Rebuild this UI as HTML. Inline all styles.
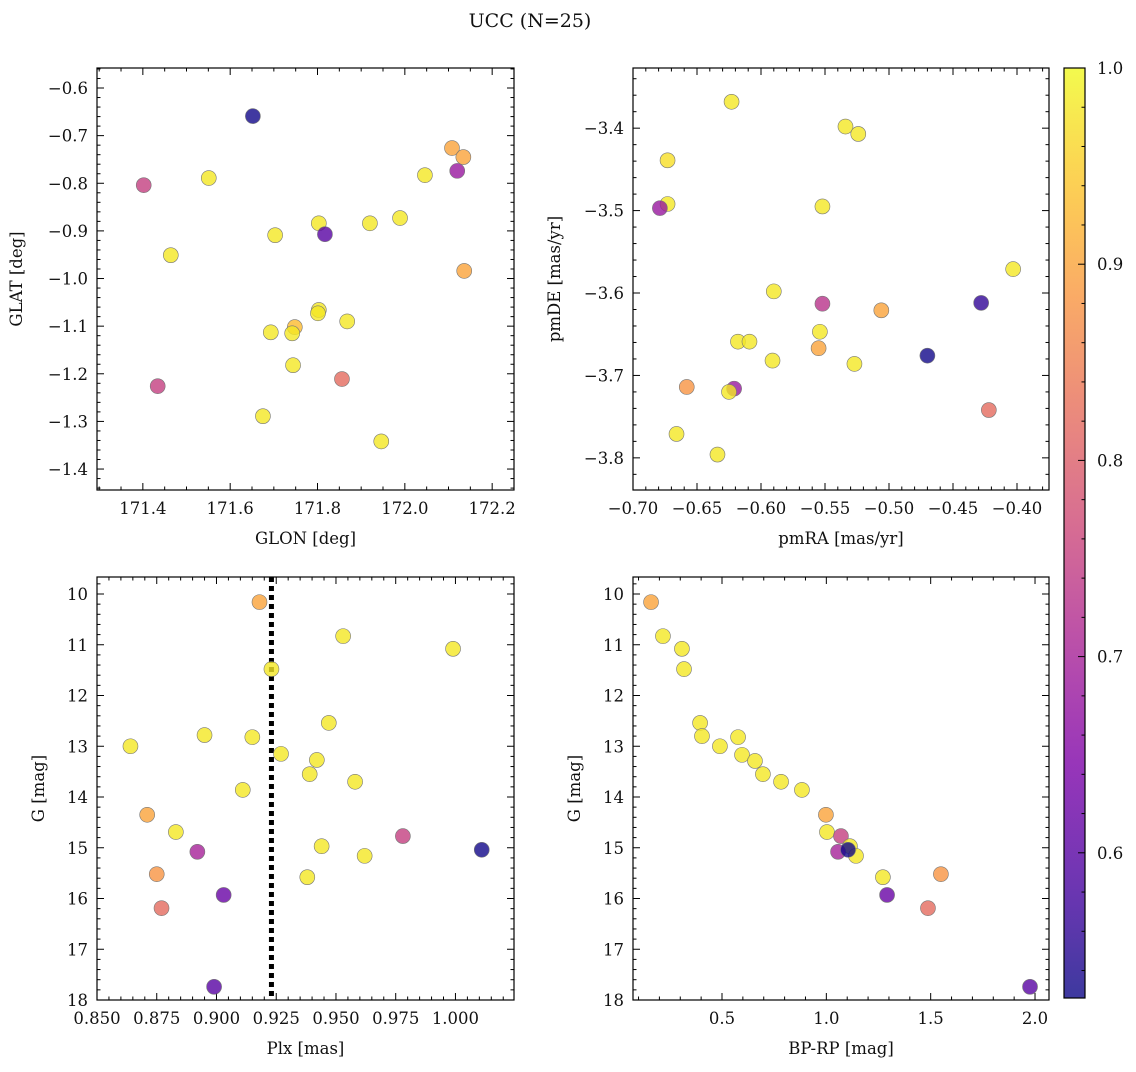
<!DOCTYPE html>
<html><head><meta charset="utf-8"><style>
body{margin:0;background:#fff;}
svg text{font-family:"DejaVu Serif","Liberation Serif",serif;fill:#111;}
</style></head><body>
<svg id="fig" width="1136" height="1067" xmlns="http://www.w3.org/2000/svg">
<text x="530" y="27" font-size="19" text-anchor="middle">UCC (N=25)</text>
</svg>
<script>
const glon=[171.652,171.402,171.551,172.046,172.108,172.134,172.120,171.464,171.703,171.803,171.817,171.920,171.989,172.136,171.434,171.693,171.748,171.742,171.803,171.801,171.868,171.744,171.675,171.856,171.946];
const glat=[-0.659,-0.804,-0.789,-0.783,-0.726,-0.745,-0.774,-0.951,-0.909,-0.884,-0.907,-0.884,-0.873,-0.984,-1.226,-1.113,-1.102,-1.115,-1.066,-1.073,-1.090,-1.182,-1.289,-1.211,-1.342];
const probPos=[0.53,0.75,0.98,0.98,0.9,0.9,0.68,0.98,0.98,0.98,0.6,0.98,0.98,0.9,0.75,0.98,0.93,0.98,0.98,0.98,0.98,0.98,0.98,0.82,0.98];
const pmra=[-0.623,-0.673,-0.673,-0.679,-0.534,-0.524,-0.552,-0.403,-0.590,-0.552,-0.506,-0.428,-0.554,-0.555,-0.618,-0.609,-0.591,-0.527,-0.470,-0.658,-0.621,-0.625,-0.422,-0.666,-0.634];
const pmde=[-3.368,-3.439,-3.492,-3.497,-3.398,-3.407,-3.495,-3.571,-3.598,-3.613,-3.621,-3.612,-3.647,-3.667,-3.659,-3.659,-3.682,-3.686,-3.676,-3.714,-3.716,-3.720,-3.742,-3.771,-3.796];
const probPm=[0.98,0.97,0.98,0.68,0.98,0.98,0.98,0.98,0.98,0.73,0.9,0.56,0.98,0.9,0.98,0.98,0.98,0.98,0.53,0.88,0.68,0.98,0.82,0.98,0.98];
const plx=[0.918,0.953,0.999,0.923,0.947,0.864,0.895,0.915,0.927,0.942,0.939,0.958,0.911,0.871,0.883,0.978,0.944,0.892,0.962,1.011,0.875,0.938,0.903,0.877,0.899];
const gmag=[10.16,10.83,11.08,11.48,12.54,13.0,12.78,12.82,13.15,13.27,13.55,13.70,13.86,14.35,14.69,14.77,14.97,15.08,15.16,15.04,15.52,15.58,15.93,16.19,17.74];
const probPlx=[0.9,0.98,0.98,0.98,0.98,0.98,0.98,0.98,0.98,0.98,0.98,0.98,0.98,0.9,0.98,0.75,0.98,0.7,0.98,0.53,0.88,0.98,0.62,0.82,0.6];
const bprp=[0.160,0.217,0.308,0.318,0.395,0.404,0.490,0.596,0.658,0.577,0.696,0.783,0.883,0.998,1.003,1.070,1.113,1.056,1.142,1.104,1.549,1.271,1.291,1.487,1.976];
const gmag2=[10.16,10.83,11.08,11.48,12.54,12.80,13.00,13.17,13.29,12.82,13.55,13.70,13.86,14.35,14.69,14.77,14.97,15.08,15.16,15.04,15.52,15.58,15.93,16.19,17.74];
const probCmd=[0.9,0.98,0.98,0.98,0.98,0.98,0.98,0.98,0.98,0.98,0.98,0.98,0.98,0.9,0.98,0.75,0.98,0.7,0.98,0.53,0.88,0.98,0.62,0.82,0.6];
const plxLine=[0.923];
const cbTicks=[0.6,0.7,0.8,0.9,1.0];

const NS="http://www.w3.org/2000/svg";
const svg=document.getElementById('fig');
function el(t,a,p){const e=document.createElementNS(NS,t);for(const k in a)e.setAttribute(k,a[k]);(p||svg).appendChild(e);return e;}
const stops=[[0,[13,8,135]],[0.125,[75,3,161]],[0.25,[125,3,168]],[0.375,[168,34,150]],[0.5,[203,70,121]],[0.625,[229,107,93]],[0.75,[248,148,65]],[0.875,[253,195,40]],[1,[240,249,33]]];
const cmin=0.526,cmax=1.0;
function plasma(v){let t=Math.max(0,Math.min(1,(v-cmin)/(cmax-cmin)));for(let i=1;i<stops.length;i++){if(t<=stops[i][0]){const a=stops[i-1],b=stops[i];const f=(t-a[0])/(b[0]-a[0]);const c=a[1].map((x,j)=>Math.round(x+(b[1][j]-x)*f));return `rgb(${c})`;}}return 'rgb(240,249,33)';}
function fmt(v,d){return (v<0?'−':'')+Math.abs(v).toFixed(d);}
function panel(o){
  const g=el('g',{});
  const sx=v=>o.x0+(v-o.xd[0])/(o.xd[1]-o.xd[0])*(o.x1-o.x0);
  const sy=v=>o.inv? o.y0+(v-o.yd[0])/(o.yd[1]-o.yd[0])*(o.y1-o.y0) : o.y1-(v-o.yd[0])/(o.yd[1]-o.yd[0])*(o.y1-o.y0);
  const eps=1e-9;
  for(let v=Math.ceil(o.xd[0]/o.xmin-eps)*o.xmin;v<=o.xd[1]+eps;v+=o.xmin){
    const X=sx(v);const maj=Math.abs(v/o.xmaj-Math.round(v/o.xmaj))<1e-4;const L=maj?7:3.5;
    el('line',{x1:X,x2:X,y1:o.y1,y2:o.y1-L,stroke:'#000','stroke-width':1},g);
    el('line',{x1:X,x2:X,y1:o.y0,y2:o.y0+L,stroke:'#000','stroke-width':1},g);
    if(maj){const t=el('text',{x:X,y:o.y1+24,'font-size':16.5,'text-anchor':'middle'},g);t.textContent=fmt(Math.round(v/o.xmaj)*o.xmaj,o.xdec);}
  }
  const ylo=Math.min(...o.yd),yhi=Math.max(...o.yd);
  for(let v=Math.ceil(ylo/o.ymin-eps)*o.ymin;v<=yhi+eps;v+=o.ymin){
    const Y=sy(v);const maj=Math.abs(v/o.ymaj-Math.round(v/o.ymaj))<1e-4;const L=maj?7:3.5;
    el('line',{x1:o.x0,x2:o.x0+L,y1:Y,y2:Y,stroke:'#000','stroke-width':1},g);
    el('line',{x1:o.x1,x2:o.x1-L,y1:Y,y2:Y,stroke:'#000','stroke-width':1},g);
    if(maj){const t=el('text',{x:o.x0-9,y:Y+6,'font-size':16.5,'text-anchor':'end'},g);t.textContent=fmt(Math.round(v/o.ymaj)*o.ymaj,o.ydec);}
  }
  if(o.vline){o.vline.forEach(v=>{const l=el('line',{x1:sx(v),x2:sx(v),y1:o.y0,y2:o.y1,stroke:'#000','stroke-width':5,'stroke-dasharray':'5 4'},g);});}
  for(let i=0;i<o.xs.length;i++){
    const c=el('circle',{cx:sx(o.xs[i]),cy:sy(o.ys[i]),r:7.5,fill:plasma(o.cs[i]),'fill-opacity':0.8,stroke:'#777','stroke-width':0.6},g);
    
    
  }
  const r=el('rect',{x:o.x0,y:o.y0,width:o.x1-o.x0,height:o.y1-o.y0,fill:'none',stroke:'#000','stroke-width':1.2},g);
  
  const xt=el('text',{x:(o.x0+o.x1)/2,y:o.y1+54,'font-size':16.5,'text-anchor':'middle'},g);xt.textContent=o.xl;
  
  const cy=(o.y0+o.y1)/2;const yt=el('text',{x:o.ylx,y:cy,'font-size':16.5,'text-anchor':'middle',transform:`rotate(-90 ${o.ylx} ${cy})`},g);yt.textContent=o.yl;
  
}
panel({name:'position-panel',x0:97,x1:514,y0:68,y1:490,xd:[171.295,172.25],yd:[-1.444,-0.558],xmaj:0.2,xmin:0.05,ymaj:0.1,ymin:0.02,xdec:1,ydec:1,xs:glon,ys:glat,cs:probPos,xl:'GLON [deg]',yl:'GLAT [deg]',ylx:22});
panel({name:'proper-motion-panel',x0:633,x1:1049,y0:68,y1:490,xd:[-0.70,-0.375],yd:[-3.839,-3.327],xmaj:0.05,xmin:0.01,ymaj:0.1,ymin:0.02,xdec:2,ydec:1,xs:pmra,ys:pmde,cs:probPm,xl:'pmRA [mas/yr]',yl:'pmDE [mas/yr]',ylx:560});
panel({name:'parallax-panel',x0:97,x1:514,y0:577,y1:1000,xd:[0.85,1.0245],yd:[9.665,18],inv:true,xmaj:0.025,xmin:0.005,ymaj:1,ymin:0.2,xdec:3,ydec:0,xs:plx,ys:gmag,cs:probPlx,xl:'Plx [mas]',yl:'G [mag]',ylx:44,vline:plxLine});
panel({name:'cmd-panel',x0:633,x1:1049,y0:577,y1:1000,xd:[0.0735,2.067],yd:[9.665,18],inv:true,xmaj:0.5,xmin:0.1,ymaj:1,ymin:0.2,xdec:1,ydec:0,xs:bprp,ys:gmag2,cs:probCmd,xl:'BP-RP [mag]',yl:'G [mag]',ylx:580});
const cb=el('g',{});
const cx0=1064,cx1=1085,cy0=68,cy1=998;
const cby=v=>cy1-(v-cmin)/(cmax-cmin)*(cy1-cy0);
const defs=el('defs',{},cb);const lg=el('linearGradient',{id:'pl',x1:0,y1:1,x2:0,y2:0},defs);
for(let i=0;i<=20;i++){const v=cmin+(cmax-cmin)*i/20;el('stop',{offset:i/20,'stop-color':plasma(v),'stop-opacity':0.8},lg);}
el('rect',{x:cx0,y:cy0,width:cx1-cx0,height:cy1-cy0,fill:'url(#pl)'},cb);
for(let v=0.54;v<=1.0001;v+=0.02){const Y=cby(v);const maj=Math.abs(v*10-Math.round(v*10))<1e-4;el('line',{x1:cx1,x2:cx1-(maj?7:3.5),y1:Y,y2:Y,stroke:'#000'},cb);}
cbTicks.forEach(v=>{const t=el('text',{x:cx1+12,y:cby(v)+6,'font-size':16.5},cb);t.textContent=v.toFixed(1);});
el('rect',{x:cx0,y:cy0,width:cx1-cx0,height:cy1-cy0,fill:'none',stroke:'#000','stroke-width':1.2},cb);
</script>
</body></html>
